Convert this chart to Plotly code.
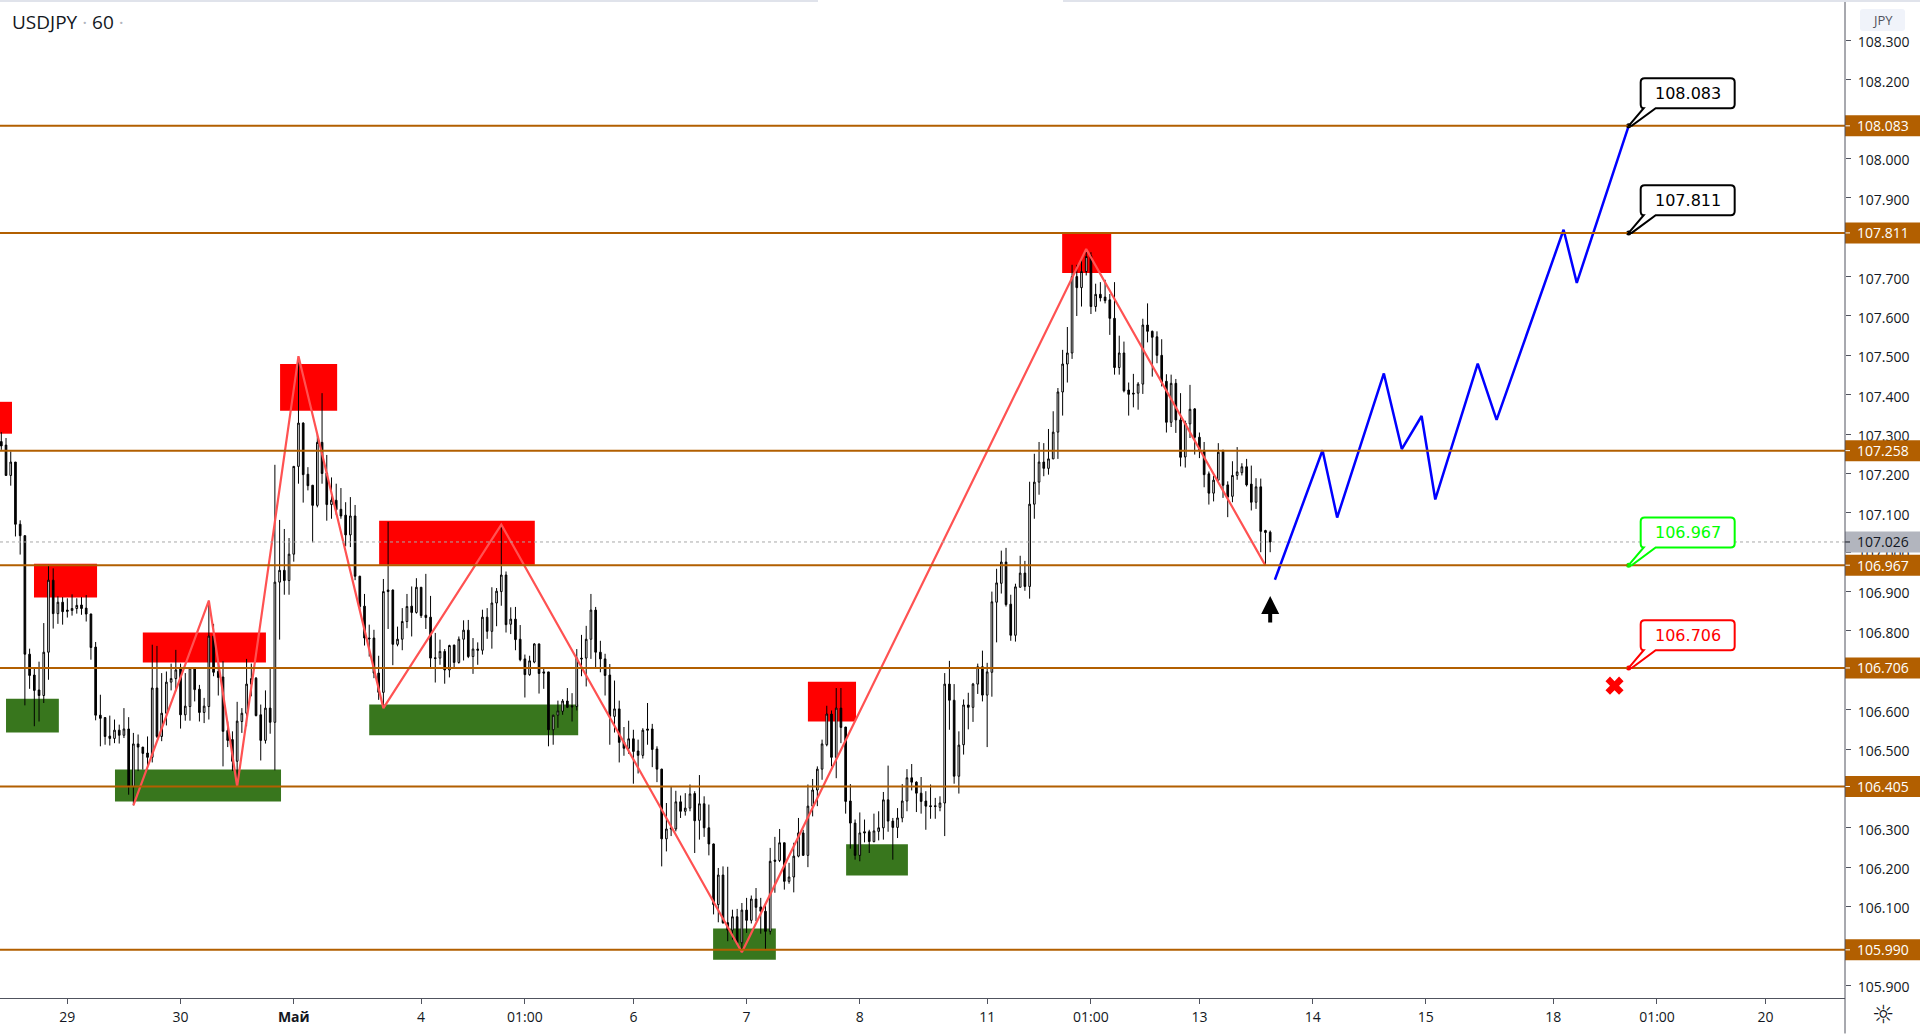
import plotly.graph_objects as go

# USDJPY 60 candles
highs = [107.305,107.290,107.256,107.229,107.081,107.042,106.755,106.708,106.722,106.820,
106.968,106.959,106.888,106.886,106.883,106.893,106.883,106.886,106.891,106.844,
106.772,106.638,106.580,106.585,106.575,106.562,106.604,106.581,106.541,106.537,
106.505,106.532,106.765,106.762,106.693,106.697,106.717,106.752,106.717,106.693,
106.706,106.706,106.663,106.630,106.877,106.818,106.718,106.723,106.570,106.545,
106.620,106.604,106.729,106.717,106.683,106.613,106.649,106.706,107.222,107.082,
107.059,107.036,107.219,107.498,107.330,107.216,107.171,107.302,107.404,107.247,
107.190,107.174,107.163,107.127,107.140,107.120,106.940,106.894,106.816,106.803,
106.737,106.932,107.077,106.905,106.811,106.858,106.894,106.913,106.934,106.911,
106.945,106.889,106.795,106.778,106.754,106.765,106.765,106.786,106.827,106.828,
106.782,106.771,106.854,106.858,106.911,106.909,107.070,106.951,106.860,106.861,
106.815,106.740,106.737,106.769,106.768,106.706,106.696,106.587,106.623,106.627,
106.655,106.642,106.754,106.790,106.813,106.894,106.861,106.775,106.742,106.716,
106.674,106.623,106.556,106.572,106.549,106.524,106.553,106.617,106.564,106.507,
106.450,106.363,106.405,106.394,106.382,106.388,106.410,106.393,106.434,106.380,
106.359,106.260,106.198,106.202,106.201,106.092,106.094,106.109,106.122,106.128,
106.147,106.122,106.108,106.249,106.277,106.297,106.262,106.211,106.262,106.325,
106.295,106.410,106.424,106.456,106.524,106.610,106.598,106.655,106.655,106.556,
106.411,106.321,106.339,106.321,106.295,106.336,106.342,106.391,106.458,106.325,
106.350,106.411,106.449,106.462,106.418,106.429,106.393,106.410,106.376,106.380,
106.693,106.724,106.665,106.545,106.626,106.643,106.668,106.717,106.750,106.719,
106.900,106.958,107.004,107.011,106.892,106.920,106.991,106.978,107.179,107.250,
107.280,107.277,107.313,107.358,107.417,107.514,107.572,107.730,107.730,107.744,
107.770,107.762,107.682,107.686,107.692,107.656,107.686,107.550,107.535,107.431,
107.453,107.432,107.593,107.632,107.563,107.561,107.541,107.452,107.451,107.440,
107.404,107.334,107.425,107.366,107.304,107.280,107.205,107.194,107.277,107.259,
107.180,107.231,107.267,107.226,107.237,107.220,107.188,107.187,107.057,107.055]

body_tops = [107.281,107.272,107.229,107.229,107.071,107.042,106.741,106.688,106.650,106.746,
106.929,106.929,106.873,106.873,106.853,106.857,106.865,106.866,106.858,106.843,
106.759,106.586,106.580,106.533,106.548,106.548,106.551,106.551,106.513,106.513,
106.505,106.490,106.655,106.655,106.591,106.670,106.679,106.701,106.706,106.609,
106.706,106.706,106.652,106.609,106.787,106.787,106.697,106.683,106.547,106.524,
106.571,106.591,106.665,106.679,106.680,106.587,106.604,106.604,106.924,106.954,
106.954,106.995,107.218,107.328,107.328,107.198,107.170,107.279,107.279,107.201,
107.132,107.132,107.109,107.094,107.092,107.092,106.939,106.863,106.782,106.782,
106.693,106.900,106.904,106.904,106.779,106.824,106.862,106.863,106.911,106.911,
106.840,106.835,106.732,106.748,106.748,106.763,106.764,106.779,106.802,106.802,
106.754,106.754,106.835,106.835,106.871,106.901,106.942,106.942,106.830,106.830,
106.779,106.729,106.724,106.767,106.767,106.696,106.696,106.586,106.597,106.622,
106.622,106.610,106.731,106.731,106.779,106.853,106.853,106.746,106.729,106.688,
106.602,106.602,106.518,106.526,106.526,106.495,106.548,106.551,106.551,106.500,
106.449,106.297,106.300,106.366,106.366,106.350,106.386,106.387,106.361,106.361,
106.300,106.259,106.180,106.180,106.059,106.074,106.074,106.091,106.091,106.119,
106.119,106.099,106.088,106.215,106.218,106.262,106.262,106.175,106.228,106.287,
106.287,106.355,106.396,106.449,106.513,106.589,106.589,106.604,106.604,106.556,
106.368,106.312,106.287,106.290,106.290,106.292,106.300,106.371,106.371,106.317,
106.325,106.368,106.427,106.427,106.416,106.388,106.368,106.356,106.356,106.363,
106.665,106.665,106.624,106.510,106.612,106.612,106.665,106.709,106.709,106.696,
106.874,106.922,106.975,106.975,106.868,106.912,106.947,106.947,107.122,107.178,
107.229,107.229,107.237,107.305,107.407,107.478,107.506,107.700,107.700,107.713,
107.751,107.753,107.655,107.655,107.648,107.641,107.594,107.506,107.506,107.412,
107.404,107.427,107.577,107.577,107.561,107.547,107.500,107.434,107.429,107.429,
107.336,107.328,107.363,107.364,107.292,107.259,107.199,107.183,107.254,107.259,
107.171,107.195,107.204,107.217,107.217,107.173,107.166,107.166,107.055,107.051]

body_bottoms = [107.270,107.195,107.195,107.071,107.042,106.741,106.687,106.649,106.636,106.636,
106.746,106.844,106.844,106.849,106.850,106.852,106.857,106.857,106.843,106.758,
106.586,106.578,106.532,106.527,106.527,106.535,106.535,106.405,106.405,106.505,
106.489,106.479,106.479,106.532,106.532,106.591,106.670,106.679,106.587,106.587,
106.608,106.651,106.593,106.593,106.608,106.695,106.682,106.545,106.522,106.469,
106.469,106.570,106.591,106.665,106.585,106.522,106.522,106.568,106.568,106.924,
106.928,106.928,106.995,107.218,107.197,107.169,107.119,107.119,107.200,107.121,
107.121,107.108,107.092,107.044,107.044,106.939,106.862,106.782,106.780,106.693,
106.644,106.644,106.900,106.766,106.766,106.779,106.824,106.847,106.847,106.839,
106.834,106.731,106.730,106.731,106.701,106.701,106.720,106.720,106.779,106.735,
106.735,106.751,106.751,106.799,106.799,106.871,106.900,106.816,106.817,106.778,
106.727,106.689,106.689,106.721,106.692,106.693,106.549,106.549,106.586,106.596,
106.606,106.607,106.608,106.729,106.731,106.779,106.746,106.729,106.687,106.583,
106.583,106.517,106.502,106.502,106.494,106.484,106.484,106.548,106.499,106.449,
106.272,106.272,106.297,106.297,106.342,106.342,106.350,106.318,106.319,106.300,
106.259,106.105,106.105,106.059,106.040,106.040,106.008,106.008,106.065,106.065,
106.098,106.088,106.037,106.037,106.215,106.217,106.164,106.164,106.175,106.228,
106.230,106.230,106.355,106.396,106.449,106.511,106.479,106.479,106.555,106.367,
106.312,106.230,106.230,106.287,106.265,106.265,106.291,106.300,106.317,106.301,
106.301,106.325,106.368,106.416,106.388,106.367,106.355,106.354,106.354,106.352,
106.363,106.624,106.431,106.431,106.511,106.606,106.606,106.665,106.637,106.637,
106.695,106.873,106.921,106.867,106.789,106.789,106.911,106.913,106.913,107.122,
107.178,107.213,107.213,107.237,107.305,107.407,107.478,107.506,107.672,107.672,
107.713,107.624,107.624,107.646,107.639,107.594,107.469,107.469,107.410,107.401,
107.402,107.404,107.427,107.561,107.546,107.500,107.432,107.330,107.330,107.336,
107.241,107.242,107.326,107.292,107.260,107.197,107.150,107.150,107.183,107.170,
107.140,107.142,107.195,107.202,107.171,107.127,107.127,107.053,107.050,107.026]

lows = [107.260,107.195,107.169,107.040,106.994,106.611,106.653,106.558,106.570,106.617,
106.676,106.806,106.818,106.816,106.834,106.839,106.844,106.841,106.824,106.727,
106.573,106.507,106.511,106.509,106.515,106.514,106.528,106.384,106.357,106.444,
106.448,106.448,106.466,106.528,106.520,106.560,106.649,106.647,106.552,106.572,
106.572,106.621,106.570,106.566,106.575,106.685,106.636,106.456,106.505,106.444,
106.405,106.541,106.558,106.634,106.583,106.471,106.514,106.539,106.446,106.778,
106.892,106.892,106.976,107.174,107.126,107.157,107.025,107.114,107.174,107.080,
107.085,107.095,107.085,107.015,107.013,106.929,106.850,106.763,106.735,106.680,
106.625,106.604,106.805,106.713,106.761,106.751,106.807,106.786,106.844,106.833,
106.805,106.708,106.669,106.714,106.666,106.682,106.706,106.717,106.725,106.731,
106.691,106.714,106.740,106.780,106.755,106.812,106.864,106.796,106.792,106.751,
106.723,106.631,106.686,106.718,106.641,106.653,106.507,106.511,106.554,106.587,
106.604,106.570,106.598,106.685,106.659,106.729,106.706,106.695,106.636,106.511,
106.542,106.466,106.483,106.488,106.412,106.438,106.476,106.511,106.454,106.416,
106.202,106.240,106.279,106.291,106.325,106.331,106.342,106.236,106.270,106.277,
106.230,106.080,106.060,106.056,106.012,106.016,106.005,105.984,106.033,106.057,
106.063,106.031,105.991,106.029,106.135,106.213,106.143,106.158,106.136,106.225,
106.229,106.200,106.329,106.355,106.422,106.507,106.456,106.426,106.515,106.336,
106.247,106.219,106.215,106.263,106.236,106.263,106.268,106.270,106.290,106.219,
106.274,106.314,106.342,106.395,106.340,106.336,106.295,106.323,106.323,106.342,
106.279,106.549,106.412,106.387,106.486,106.550,106.569,106.640,106.621,106.505,
106.633,106.771,106.895,106.862,106.775,106.773,106.911,106.902,106.882,107.085,
107.146,107.193,107.197,107.237,107.237,107.347,107.431,107.491,107.600,107.624,
107.703,107.605,107.611,107.637,107.632,107.552,107.451,107.451,107.406,107.347,
107.368,107.362,107.402,107.533,107.446,107.480,107.421,107.304,107.318,107.303,
107.218,107.215,107.290,107.248,107.239,107.165,107.121,107.129,107.182,107.138,
107.089,107.127,107.184,107.195,107.167,107.106,107.110,107.000,106.966,107.000]

# U = hollow bar, D = black bar
directions = ("DDUDDDDDDU" "UDUDDUUDDD" "DDDDUDUDUD" "DDUDUUUUDU" "UDDUUDDDDD" "UUUUDDUDUU"
              "DUUUDDDUDD" "UDDDUDDDDD" "DUDDUUUDUD" "DDDUDUDUUD" "UDUDUUUDUD" "DDUUDDDUUU"
              "DDUDUUDDDD" "UDDUDDUDDD" "DUDUDUUDUD" "DDUDDUDUDU" "DDDUDUDUUU" "DUUUUUDUDD"
              "DDUDDUUUDD" "UUUDDDDDDU" "UDDUUDUUDU" "UUUDDUUDUU" "UDUUUUUUDU" "UDUDDDDUDD"
              "DUUDDDDDUD" "DUUDDDDUUD" "DUUUDDUDDD")

opens = [t if d == "D" else b for t, b, d in zip(body_tops, body_bottoms, directions)]
closes = [b if d == "D" else t for t, b, d in zip(body_tops, body_bottoms, directions)]

levels = [108.083, 107.811, 107.258, 106.967, 106.706, 106.405, 105.990]
last_price = 107.026

zigzag_x = [28, 44, 50, 63, 81, 106, 157, 230, 268]
zigzag_y = [106.357, 106.877, 106.405, 107.498, 106.604, 107.070, 105.984, 107.770, 106.966]

forecast_x = [270, 280.1, 283.2, 293.1, 296.9, 301.1, 304, 313, 317, 331.2, 334, 345]
forecast_y = [106.930, 107.259, 107.088, 107.454, 107.262, 107.346, 107.134, 107.479, 107.336, 107.819, 107.684, 108.083]

red_x0 = [-0.28, 6.93, 59.1, 30.0, 80.1, 171.0, 224.9]
red_x1 = [2.27, 20.3, 71.2, 56.1, 113.1, 181.2, 235.3]
red_y0 = [107.382, 106.971, 107.478, 106.796, 107.080, 106.671, 107.808]
red_y1 = [107.301, 106.885, 107.359, 106.720, 106.968, 106.570, 107.709]

green_x0 = [1.0, 24.1, 78.0, 150.9, 179.1]
green_x1 = [12.2, 59.3, 122.3, 164.2, 192.2]
green_y0 = [106.628, 106.448, 106.613, 106.044, 106.258]
green_y1 = [106.542, 106.367, 106.535, 105.965, 106.179]

y_ticks = [105.9 + 0.1 * i for i in range(25)]
hidden_ticks = ["106.000", "106.400", "106.700", "107.800"]  # sit fully under the level labels
x_tick_pos = [14, 38, 62, 89, 111, 134, 158, 182, 209, 231, 254, 278, 302, 329, 351, 374]
x_tick_text = ["29", "30", "<b>Май</b>", "4", "01:00", "6", "7", "8", "11", "01:00", "13", "14", "15", "18", "01:00", "20"]

callout_values = [108.083, 107.811, 106.967, 106.706]
callout_colors = ["#000000", "#000000", "#00ff00", "#ff0000"]
callout_bar = 345

BROWN = "#b25f00"
FONT = "Open Sans"
W, H = 1920, 1034
PLOT_W, PLOT_H = 1845, 998.5

fig = go.Figure()

fig.add_trace(go.Candlestick(
    x=list(range(len(opens))), open=opens, high=highs, low=lows, close=closes,
    increasing=dict(line=dict(color="#000000", width=1), fillcolor="#ffffff"),
    decreasing=dict(line=dict(color="#000000", width=1), fillcolor="#000000"),
    whiskerwidth=0, showlegend=False, hoverinfo="skip"))

fig.add_trace(go.Scatter(x=zigzag_x, y=zigzag_y, mode="lines",
                         line=dict(color="#ff5252", width=2.2), showlegend=False, hoverinfo="skip"))
fig.add_trace(go.Scatter(x=forecast_x, y=forecast_y, mode="lines",
                         line=dict(color="#0000ff", width=2.5), showlegend=False, hoverinfo="skip"))
fig.add_trace(go.Scatter(x=[342], y=[106.661], mode="markers",
                         marker=dict(symbol="x", size=16, color="#ff0000", line=dict(width=0)),
                         showlegend=False, hoverinfo="skip"))

shapes = []
for x0, x1, y0, y1 in zip(red_x0, red_x1, red_y0, red_y1):
    shapes.append(dict(type="rect", layer="below", x0=x0, x1=x1, y0=y0, y1=y1, fillcolor="#ff0000", line_width=0))
for x0, x1, y0, y1 in zip(green_x0, green_x1, green_y0, green_y1):
    shapes.append(dict(type="rect", layer="below", x0=x0, x1=x1, y0=y0, y1=y1, fillcolor="#38761d", line_width=0))

# last price dotted line
shapes.append(dict(type="line", xref="paper", x0=0, x1=1, y0=last_price, y1=last_price,
                   line=dict(color="#a8a8a8", width=1, dash="dot")))

annotations = []


def price_label(value, bg, fg):
    shapes.append(dict(type="rect", xref="paper", x0=1, x1=W / PLOT_W, ysizemode="pixel", yanchor=value,
                       y0=-10.5, y1=10.5, fillcolor=bg, line_width=0))
    shapes.append(dict(type="line", xref="paper", x0=1, x1=1 + 5 / PLOT_W, y0=value, y1=value,
                       line=dict(color=fg, width=1)))
    annotations.append(dict(xref="paper", x=(PLOT_W + 37.5) / PLOT_W, y=value, text=f"{value:.3f}", showarrow=False,
                            xanchor="center", yanchor="middle", font=dict(family=FONT, size=14, color=fg)))


price_label(last_price, "#b2b5be", "#131722")
for lvl in levels:
    shapes.append(dict(type="line", xref="paper", x0=0, x1=1, y0=lvl, y1=lvl, line=dict(color=BROWN, width=2)))
    price_label(lvl, BROWN, "#ffffff")

# callouts hang off the price they name
box = ("M 0,0 L 15,17.7 Q 12,17.7 12,21.7 L 12,43.7 Q 12,47.7 16,47.7 L 102,47.7 Q 106,47.7 106,43.7 "
       "L 106,21.7 Q 106,17.7 102,17.7 L 27,17.7 L 3,0 Z")
for val, col in zip(callout_values, callout_colors):
    shapes.append(dict(type="path", xsizemode="pixel", ysizemode="pixel", xanchor=callout_bar, yanchor=val,
                       path=box, fillcolor="#ffffff", line=dict(color=col, width=2)))
    annotations.append(dict(x=callout_bar, y=val, text=f"{val:.3f}", showarrow=False, xshift=59, yshift=32.7,
                            xanchor="center", yanchor="middle", font=dict(family="DejaVu Sans", size=16, color=col)))
fig.add_trace(go.Scatter(x=[callout_bar] * len(callout_values), y=callout_values, mode="markers",
                         marker=dict(size=5, color=callout_colors), showlegend=False, hoverinfo="skip"))

# axis line runs on into the corner, and the broken strip along the top
shapes.append(dict(type="line", xref="paper", yref="paper", x0=1, x1=1, y0=-(H - PLOT_H) / PLOT_H, y1=1,
                   line=dict(color="#50535e", width=1)))
for a, b in [(0, 818), (1063, W)]:
    shapes.append(dict(type="line", xref="paper", yref="paper", x0=a / PLOT_W, x1=b / PLOT_W, y0=1 - 1 / PLOT_H, y1=1 - 1 / PLOT_H,
                       line=dict(color="#e0e3eb", width=2)))

# JPY button
shapes.append(dict(type="path", xref="paper", yref="paper", xsizemode="pixel", ysizemode="pixel", xanchor=1, yanchor=1,
                   path="M 18,-9 L 57,-9 Q 60,-9 60,-12 L 60,-28 Q 60,-31 57,-31 L 18,-31 Q 15,-31 15,-28 L 15,-12 Q 15,-9 18,-9 Z",
                   fillcolor="#f0f3fa", line_width=0))
annotations.append(dict(xref="paper", yref="paper", x=(PLOT_W + 37.5) / PLOT_W, y=1 - 20 / PLOT_H, text="JPY", showarrow=False,
                        xanchor="center", yanchor="middle", font=dict(family=FONT, size=13, color="#50535e")))

annotations.append(dict(xref="paper", yref="paper", x=10 / PLOT_W, y=1 - 22 / PLOT_H, xanchor="left", yanchor="middle", showarrow=False,
                        text='USDJPY <span style="color:#b2b5be">·</span> 60 <span style="color:#b2b5be">·</span>',
                        font=dict(family=FONT, size=19, color="#131722")))

annotations.append(dict(x=269, y=106.889, ax=0, ay=28, text="", showarrow=True, arrowhead=2, arrowsize=0.9,
                        arrowwidth=4, arrowcolor="#000000", standoff=0))

annotations.append(dict(xref="paper", yref="paper", x=(PLOT_W + 37.5) / PLOT_W, y=-17 / PLOT_H, text="☼", showarrow=False,
                        xanchor="center", yanchor="middle", font=dict(family="DejaVu Sans", size=25, color="#131722")))

y_tick_text = [f"{t:.3f}" for t in y_ticks]
y_tick_text = ["" if t in hidden_ticks else t for t in y_tick_text]

fig.update_layout(
    width=W, height=H, margin=dict(l=0, r=W - PLOT_W, t=0, b=H - PLOT_H, autoexpand=False),
    paper_bgcolor="#ffffff", plot_bgcolor="#ffffff", showlegend=False, boxgap=0.5,
    shapes=shapes, annotations=annotations, font=dict(family=FONT, color="#131722"),
    xaxis=dict(range=[-0.276, 390.86], rangeslider=dict(visible=False), showgrid=False, zeroline=False,
               showline=True, linecolor="#50535e", linewidth=1, ticks="outside", ticklen=5, tickcolor="#50535e",
               tickmode="array", tickvals=x_tick_pos, ticktext=x_tick_text, tickfont=dict(family=FONT, size=14),
               ticklabelstandoff=1),
    yaxis=dict(range=[105.8677, 108.4026], side="right", showgrid=False, zeroline=False, showline=False,
               ticks="outside", ticklen=5, tickcolor="#50535e", tickmode="array", tickvals=y_ticks,
               ticktext=y_tick_text, tickfont=dict(family=FONT, size=14), ticklabelstandoff=4, ticklabelshift=2),
)

fig.write_html("out.html", config=dict(displayModeBar=False),
               post_script="document.body.style.margin='0';document.body.style.overflow='hidden';")
